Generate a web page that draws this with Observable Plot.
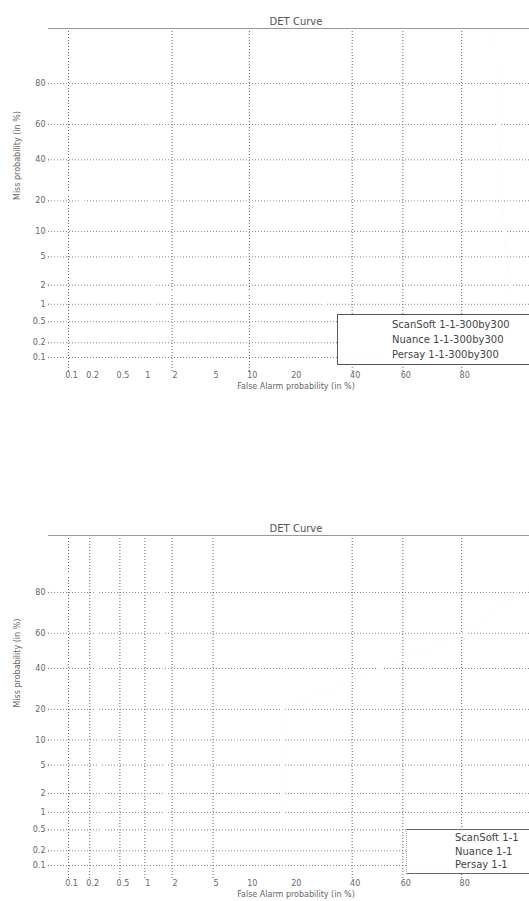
<!DOCTYPE html>
<html>
<head>
<meta charset="utf-8">
<script src="https://cdn.jsdelivr.net/npm/d3@7"></script>
<script src="https://cdn.jsdelivr.net/npm/@observablehq/plot@0.6"></script>
<style>
  html, body { margin: 0; padding: 0; background: #fff; }
  body { width: 529px; height: 901px; position: relative; overflow: hidden; font-family: "DejaVu Sans", sans-serif; }
  .panel { position: absolute; left: 0; width: 529px; }
  .legend { position: absolute; background: #fff; font-size: 10px; color: #444; box-sizing: border-box; }
  .legend .row { display: flex; align-items: center; white-space: nowrap; }
  .legend .swatch { display: inline-block; width: 40px; height: 0; border-top: 2px solid #fff; margin-right: 8px; }
</style>
</head>
<body>
<div id="top" class="panel" style="top:0"></div>
<div id="bottom" class="panel" style="top:450px"></div>
<div id="legendTop" class="legend" style="left:337px; top:314px; width:200px; height:51px; border:1px solid #555; padding:2px 0 0 6px;"></div>
<div id="legendBottom" class="legend" style="left:406px; top:829px; width:130px; height:45px; border-top:1px solid #666; border-bottom:1px solid #666; border-left:1px dotted #aaa; padding:1px 0 0 0;"></div>
<script>
// Axis ticks (percent)
const xTickValues = [0.1, 0.2, 0.5, 1, 2, 5, 10, 20, 40, 60, 80];
const xTickLabels = ["0.1", "0.2", "0.5", "1", "2", "5", "10", "20", "40", "60", "80"];
const yTickValues = [0.1, 0.2, 0.5, 1, 2, 5, 10, 20, 40, 60, 80];
const yTickLabels = ["0.1", "0.2", "0.5", "1", "2", "5", "10", "20", "40", "60", "80"];

// Vertical grid positions drawn in each panel
const xGridTop = [0.1, 2, 10, 40, 60, 80];
const xGridBottom = [0.1, 0.2, 0.5, 1, 2, 5, 40, 60, 80];

// Series names
const seriesTop = ["ScanSoft 1-1-300by300", "Nuance 1-1-300by300", "Persay 1-1-300by300"];
const seriesBottom = ["ScanSoft 1-1", "Nuance 1-1", "Persay 1-1"];

// DET points: false alarm % and miss %, 300by300 trials
const scanSoft300FA = [0.05, 0.5, 1.2, 22, 30];
const scanSoft300Miss = [28, 13, 1.6, 1.5, 1.0];
const nuance300FA = [1.1, 1.15, 1.2, 1.25, 1.3];
const nuance300Miss = [94, 60, 10, 1.1, 0.5];
const persay300FA = [88, 89, 90, 91];
const persay300Miss = [94, 40, 5, 1.5];

// DET points: false alarm % and miss %, 1-1 trials
const scanSoft11FA = [0.06, 0.25, 0.25, 0.3, 0.3];
const scanSoft11Miss = [89, 80, 20, 1, 0.3];
const nuance11FA = [1.5, 1.6, 1.7, 2.0];
const nuance11Miss = [94, 60, 1, 0.6];
const persay11FA = [92, 81, 17, 17];
const persay11Miss = [80, 60, 20, 1];

// Series colours (drawn near-white)
const seriesColors = ["#ffffff", "#fefefe", "#fdfdfd"];

// Inverse standard normal CDF (Acklam's rational approximation)
function probit(p) {
  const a = [-3.969683028665376e+01, 2.209460984245205e+02, -2.759285104469687e+02, 1.383577518672690e+02, -3.066479806614716e+01, 2.506628277459239e+00];
  const b = [-5.447609879822406e+01, 1.615858368580409e+02, -1.556989798598866e+02, 6.680131188771972e+01, -1.328068155288572e+01];
  const c = [-7.784894002430293e-03, -3.223964580411365e-01, -2.400758277161838e+00, -2.549732539343734e+00, 4.374664141464968e+00, 2.938163982698783e+00];
  const d = [7.784695709041462e-03, 3.224671290700398e-01, 2.445134137142996e+00, 3.754408661907416e+00];
  const pl = 0.02425, ph = 1 - pl;
  let q, r;
  if (p < pl) {
    q = Math.sqrt(-2 * Math.log(p));
    return (((((c[0]*q+c[1])*q+c[2])*q+c[3])*q+c[4])*q+c[5]) / ((((d[0]*q+d[1])*q+d[2])*q+d[3])*q+1);
  }
  if (p <= ph) {
    q = p - 0.5; r = q * q;
    return (((((a[0]*r+a[1])*r+a[2])*r+a[3])*r+a[4])*r+a[5])*q / (((((b[0]*r+b[1])*r+b[2])*r+b[3])*r+b[4])*r+1);
  }
  q = Math.sqrt(-2 * Math.log(1 - p));
  return -(((((c[0]*q+c[1])*q+c[2])*q+c[3])*q+c[4])*q+c[5]) / ((((d[0]*q+d[1])*q+d[2])*q+d[3])*q+1);
}
const pct = v => probit(v / 100);

function toRows(names, faArrays, missArrays) {
  const rows = [];
  names.forEach((name, k) => {
    faArrays[k].forEach((fa, i) => rows.push({series: name, fa, miss: missArrays[k][i]}));
  });
  return rows;
}

function detPanel({height, marginTop, marginBottom, yMax, xGrid, rows, names}) {
  return Plot.plot({
    width: 529,
    height,
    marginLeft: 48,
    marginRight: 0,
    marginTop,
    marginBottom,
    x: {domain: [-3.2902, 1.5198], axis: null},
    y: {domain: [-3.291, yMax], axis: null},
    color: {domain: names, range: seriesColors},
    style: {fontFamily: "DejaVu Sans", fontSize: "8px", color: "#555", background: "#fff", overflow: "visible"},
    marks: [
      Plot.ruleY(yTickValues, {y: pct, stroke: "#8a8a8a", strokeDasharray: "1 2"}),
      Plot.ruleX(xGrid, {x: pct, stroke: "#666", strokeDasharray: "1 2"}),
      Plot.frame({anchor: "top", stroke: "#999", strokeDasharray: "6 1"}),
      Plot.line(rows, {x: d => pct(d.fa), y: d => pct(d.miss), z: "series", stroke: "series", strokeWidth: 2, clip: true}),
      Plot.dot(yTickValues, {y: pct, frameAnchor: "left", r: 0.7, fill: "#888", stroke: null}),
      Plot.text(yTickValues, {y: pct, text: (d, i) => yTickLabels[i], frameAnchor: "left", textAnchor: "end", dx: -3, fill: "#666"}),
      Plot.text(xTickValues, {x: pct, text: (d, i) => xTickLabels[i], frameAnchor: "bottom", dy: 6, dx: 3, fill: "#666"}),
      Plot.text(["False Alarm probability (in %)"], {frameAnchor: "bottom", dy: 17, dx: 7, fill: "#666"}),
      Plot.text(["Miss probability (in %)"], {frameAnchor: "left", dx: -31, rotate: -90, fill: "#666"}),
      Plot.text(["DET Curve"], {frameAnchor: "top", dy: -11, dx: 7, fontSize: 10, fill: "#555"})
    ]
  });
}

const rowsTop = toRows(seriesTop, [scanSoft300FA, nuance300FA, persay300FA], [scanSoft300Miss, nuance300Miss, persay300Miss]);
const rowsBottom = toRows(seriesBottom, [scanSoft11FA, nuance11FA, persay11FA], [scanSoft11Miss, nuance11Miss, persay11Miss]);

document.getElementById("top").append(detPanel({
  height: 450, marginTop: 28, marginBottom: 79, yMax: 1.631, xGrid: xGridTop, rows: rowsTop, names: seriesTop
}));
document.getElementById("bottom").append(detPanel({
  height: 451, marginTop: 85, marginBottom: 22, yMax: 1.662, xGrid: xGridBottom, rows: rowsBottom, names: seriesBottom
}));

function fillLegend(id, names, lineHeight) {
  const box = document.getElementById(id);
  names.forEach((name, i) => {
    const row = document.createElement("div");
    row.className = "row";
    row.style.height = lineHeight + "px";
    const sw = document.createElement("span");
    sw.className = "swatch";
    sw.style.borderTopColor = seriesColors[i];
    const label = document.createElement("span");
    label.textContent = name;
    row.append(sw, label);
    box.append(row);
  });
}
fillLegend("legendTop", seriesTop, 15);
fillLegend("legendBottom", seriesBottom, 13.5);
</script>
</body>
</html>
